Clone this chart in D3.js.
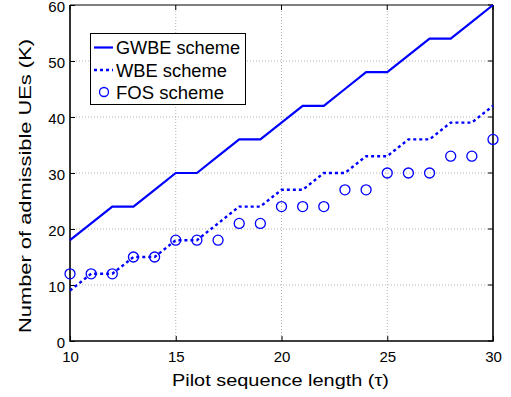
<!DOCTYPE html>
<html>
<head>
<meta charset="utf-8">
<script src="https://cdn.jsdelivr.net/npm/d3@7"></script>
<style>
  body { margin: 0; background: #fff; }
  text { font-family: "Liberation Sans", Arial, Helvetica, sans-serif; fill: #000; }
</style>
</head>
<body>
<div id="chart"></div>
<script>
// pilot sequence length tau
const tau = [10, 11, 12, 13, 14, 15, 16, 17, 18, 19, 20, 21, 22, 23, 24, 25, 26, 27, 28, 29, 30];
const gwbe = [18, 21, 24, 24, 27, 30, 30, 33, 36, 36, 39, 42, 42, 45, 48, 48, 51, 54, 54, 57, 60];
const wbe = [9, 12, 12, 15, 15, 18, 18, 21, 24, 24, 27, 27, 30, 30, 33, 33, 36, 36, 39, 39, 42];
const fos = [12, 12, 12, 15, 15, 18, 18, 18, 21, 21, 24, 24, 24, 27, 27, 30, 30, 30, 33, 33, 36];
const xTicks = [10, 15, 20, 25, 30];
const yTicks = [0, 10, 20, 30, 40, 50, 60];
const legendNames = ["GWBE scheme", "WBE scheme", "FOS scheme"];

const W = 511, H = 397;
const margin = {top: 5, right: 18, bottom: 56, left: 70};
const width = W - margin.left - margin.right;
const height = H - margin.top - margin.bottom;
const blue = "#0000ff";

const svg = d3.select("#chart").append("svg")
    .attr("width", W)
    .attr("height", H);

const chart = svg.append("g")
    .attr("transform", `translate(${margin.left},${margin.top})`);

const x = d3.scaleLinear().domain([10, 30]).range([0, width]);
const y = d3.scaleLinear().domain([0, 60]).range([height, 0]);

// dotted grid
chart.append("g").selectAll("line")
  .data(xTicks.slice(1, -1))
  .join("line")
    .attr("x1", d => x(d)).attr("x2", d => x(d))
    .attr("y1", 0).attr("y2", height)
    .attr("stroke", "#b4b4b4").attr("stroke-dasharray", "1,2");
chart.append("g").selectAll("line")
  .data(yTicks.slice(1, -1))
  .join("line")
    .attr("y1", d => y(d)).attr("y2", d => y(d))
    .attr("x1", 0).attr("x2", width)
    .attr("stroke", "#b4b4b4").attr("stroke-dasharray", "1,2");

// axes (ticks inward)
const xAxis = d3.axisBottom(x).tickValues(xTicks).tickSize(-5).tickPadding(10).tickSizeOuter(0);
const yAxis = d3.axisLeft(y).tickValues(yTicks).tickSize(-5).tickPadding(5).tickSizeOuter(0);

const xAxisG = chart.append("g")
    .attr("transform", `translate(0,${height})`)
    .call(xAxis);
const yAxisG = chart.append("g").call(yAxis);
[xAxisG, yAxisG].forEach(g => {
  g.select(".domain").remove();
  g.selectAll(".tick line").attr("stroke", "#000");
  g.selectAll("text").style("font-size", "15px").attr("fill", "#000");
});
xAxisG.selectAll("text").attr("dy", "0.72em");
yAxisG.selectAll("text").attr("dy", "0.4em");

// mirror ticks on top and right
chart.append("g").selectAll("line")
  .data(xTicks)
  .join("line")
    .attr("x1", d => x(d)).attr("x2", d => x(d))
    .attr("y1", 0).attr("y2", 5).attr("stroke", "#000");
chart.append("g").selectAll("line")
  .data(yTicks)
  .join("line")
    .attr("y1", d => y(d)).attr("y2", d => y(d))
    .attr("x1", width).attr("x2", width - 5).attr("stroke", "#000");

// box
chart.append("line").attr("x1", 0).attr("x2", width).attr("y1", 0).attr("y2", 0)
    .attr("stroke", "#000").attr("stroke-width", 1);
chart.append("path")
    .attr("d", `M0,0V${height}H${width}V0`)
    .attr("fill", "none").attr("stroke", "#000").attr("stroke-width", 1.6);

// series
const line = d3.line().x(d => x(d[0])).y(d => y(d[1]));
chart.append("path")
    .datum(d3.zip(tau, gwbe))
    .attr("d", line)
    .attr("fill", "none").attr("stroke", blue).attr("stroke-width", 2.2);
chart.append("path")
    .datum(d3.zip(tau, wbe))
    .attr("d", line)
    .attr("fill", "none").attr("stroke", blue).attr("stroke-width", 2.4)
    .attr("stroke-dasharray", "3,3");
chart.append("g").selectAll("circle")
  .data(d3.zip(tau, fos))
  .join("circle")
    .attr("cx", d => x(d[0]))
    .attr("cy", d => y(d[1]))
    .attr("r", 5)
    .attr("fill", "none").attr("stroke", blue).attr("stroke-width", 1.3);

// axis titles
svg.append("text")
    .attr("x", margin.left + width / 2 - 1)
    .attr("y", 386)
    .attr("text-anchor", "middle")
    .attr("textLength", 217)
    .attr("lengthAdjust", "spacingAndGlyphs")
    .style("font-size", "17px")
    .text("Pilot sequence length (\u03c4)");
svg.append("text")
    .attr("transform", `translate(31,186) rotate(-90)`)
    .attr("text-anchor", "middle")
    .attr("textLength", 294)
    .attr("lengthAdjust", "spacingAndGlyphs")
    .style("font-size", "17px")
    .text("Number of admissible UEs (K)");

// legend
const legend = svg.append("g");
legend.append("rect")
    .attr("x", 90.5).attr("y", 33.5)
    .attr("width", 155).attr("height", 71)
    .attr("fill", "#fff").attr("stroke", "#000").attr("stroke-width", 1);
const rowY = [47.5, 70, 92];
const textLen = [124, 111, 108];
legendNames.forEach((name, i) => {
  if (i === 0) {
    legend.append("line").attr("x1", 94).attr("x2", 113).attr("y1", rowY[i]).attr("y2", rowY[i])
        .attr("stroke", blue).attr("stroke-width", 2.2);
  } else if (i === 1) {
    legend.append("line").attr("x1", 94).attr("x2", 113).attr("y1", rowY[i]).attr("y2", rowY[i])
        .attr("stroke", blue).attr("stroke-width", 2.4).attr("stroke-dasharray", "3,3");
  } else {
    legend.append("circle").attr("cx", 104).attr("cy", rowY[i]).attr("r", 4.5)
        .attr("fill", "none").attr("stroke", blue).attr("stroke-width", 1.3);
  }
  legend.append("text")
      .attr("x", 116)
      .attr("y", rowY[i] + 6.5)
      .attr("textLength", textLen[i])
      .attr("lengthAdjust", "spacingAndGlyphs")
      .style("font-size", "18px")
      .text(name);
});
</script>
</body>
</html>
